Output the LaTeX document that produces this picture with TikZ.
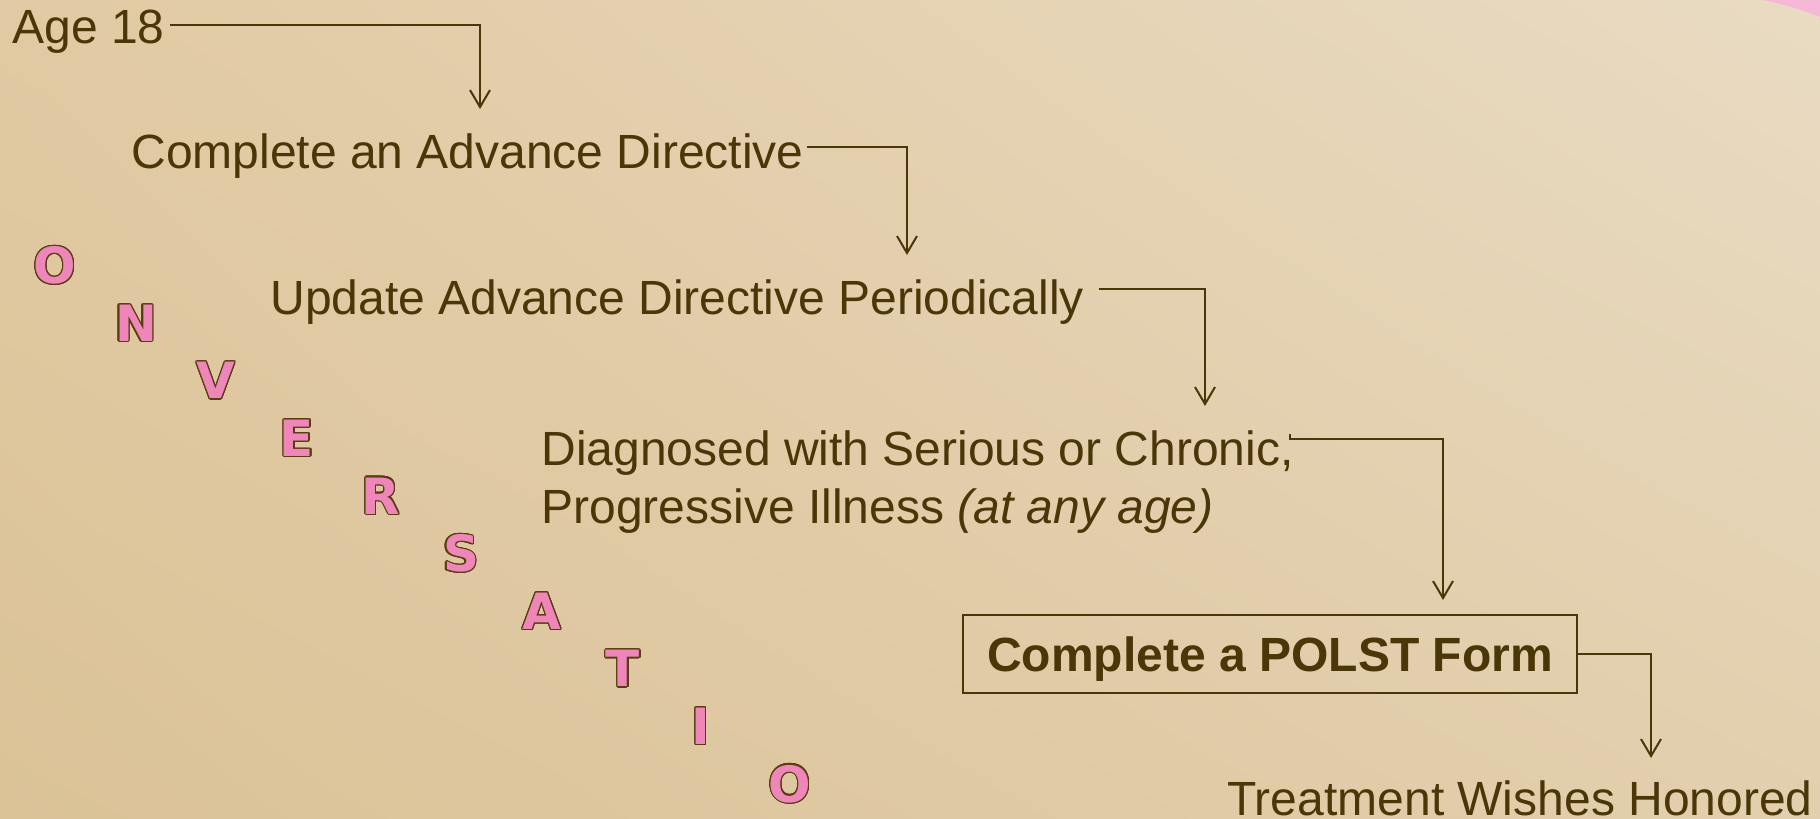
\documentclass[tikz,border=0pt]{standalone}
\usepackage{fontspec}
\setmainfont{Liberation Sans}
\newfontfamily\letterfont{DejaVu Sans}
\usepackage{contour}
\contourlength{0.6pt}
\usetikzlibrary{arrows.meta, shadings}

\definecolor{bgTL}{HTML}{E1CAA3}
\definecolor{bgTR}{HTML}{E9DBC3}
\definecolor{bgBL}{HTML}{DBC297}
\definecolor{bgBR}{HTML}{E2CFAD}
\definecolor{txtbrown}{HTML}{4A3606}
\definecolor{letterpink}{HTML}{EE86BA}
\definecolor{letterline}{HTML}{5A3C10}
\definecolor{cornerpink}{HTML}{F5B8D6}

\begin{document}
\begin{tikzpicture}[x=0.5pt, y=-0.5pt,
    steptext/.style={anchor=base west, inner sep=0pt, text=txtbrown,
        font=\fontsize{24}{29}\selectfont},
    flow/.style={draw=txtbrown, line width=1pt,
        -{Straight Barb[length=8.5pt, width=10pt]}},
    letter/.style={inner sep=0pt, text=letterpink,
        font=\letterfont\bfseries\fontsize{25}{30}\selectfont}]

    % Background
    \useasboundingbox (0,0) rectangle (1820,819);
    \shade[upper left=bgTL, upper right=bgTR, lower left=bgBL, lower right=bgBR]
        (0,0) rectangle (1820,819);
    \fill[cornerpink] (1763,0) .. controls (1790,6) and (1805,11) .. (1820,17) -- (1820,0) -- cycle;

    % Steps
    \node[steptext] (age) at (12,43) {Age 18};
    \node[steptext] (advdir) at (131,168) {Complete an Advance Directive};
    \node[steptext] (update) at (270,314) {Update Advance Directive Periodically};
    \node[steptext] (diag) at (541,465) {Diagnosed with Serious or Chronic,};
    \node[steptext] (diagb) at (541,523) {Progressive Illness \textit{(at any age)}};
    \node[draw=txtbrown, line width=1pt, inner sep=0pt, text=txtbrown,
        minimum width=307pt, minimum height=39pt, text height=17pt, text depth=0pt,
        font=\bfseries\fontsize{24}{29}\selectfont] (polst) at (1270,654) {Complete a POLST Form};
    \node[steptext] (honored) at (1227,815) {Treatment Wishes Honored};

    % Arrow ends
    \coordinate (tipA) at (480,109);
    \coordinate (tipB) at (907,255);
    \coordinate (tipC) at (1205,406);
    \coordinate (tipD) at (1443,600);
    \coordinate (tipE) at (1651,758);

    % Connectors
    \draw[flow] ([shift={(5,-18)}]age.base east) -| (tipA);
    \draw[flow] ([shift={(3,-21)}]advdir.base east) -| (tipB);
    \draw[flow] ([shift={(14,-25)}]update.base east) -| (tipC);
    \draw[flow] ([shift={(-4,-31)}]diag.base east) -- ++(0,5) -| (tipD);
    \draw[flow] (polst.east) -| (tipE);

    % Conversation letters
    \foreach \ch/\x [count=\i from 0] in {O/55,N/136,V/216,E/297,R/381,S/461,A/542,T/623,I/701,O/790}
        \node[letter] (ltr\i) at (\x, 266+\i*57.6) {\contour{letterline}{\ch}};

\end{tikzpicture}
\end{document}
